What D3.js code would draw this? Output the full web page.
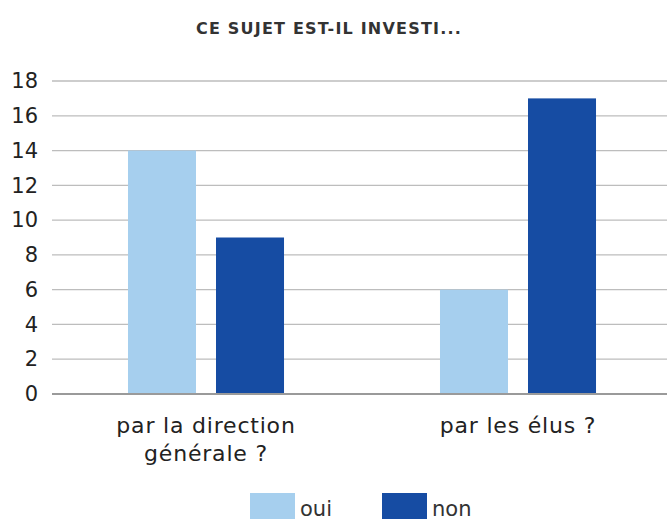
<!DOCTYPE html>
<html>
<head>
<meta charset="utf-8">
<script src="https://cdn.jsdelivr.net/npm/d3@7"></script>
<style>
    body { margin: 0; background: #fff; }
    svg { display: block; font-family: "DejaVu Sans", "Noto Sans", sans-serif; }
</style>
</head>
<body>
<div id="chart"></div>
<script>
// données du graphique
let categories = [['par la direction', 'générale ?'], ['par les élus ?']];
let seriesNames = ['oui', 'non'];
let ouiValues = [14, 6];
let nonValues = [9, 17];
let yTicks = [0, 2, 4, 6, 8, 10, 12, 14, 16, 18];
let colors = ['#a6cfee', '#164ca3'];

let width = 667, height = 521;
let svg = d3.select('#chart').append('svg')
    .attr('width', width)
    .attr('height', height);

//titre
svg.append('text')
    .attr('x', 329)
    .attr('y', 34)
    .attr('text-anchor', 'middle')
    .style('font-size', '16px')
    .style('letter-spacing', '1.2px')
    .style('font-weight', 'bold')
    .style('fill', '#333')
    .text('CE SUJET EST-IL INVESTI...');

let data = categories.map((c, i) => ({cat: i, values: [ouiValues[i], nonValues[i]]}));

let x0 = d3.scaleBand().domain(d3.range(categories.length)).range([50, 674]).padding(0);
let x1 = d3.scaleBand().domain(d3.range(seriesNames.length))
    .range([0, x0.bandwidth()])
    .paddingInner(20 / 88)
    .paddingOuter(0.886);
let y = d3.scaleLinear().domain([0, 18]).range([394, 81]);

//grille
svg.append('g').selectAll('line')
    .data(yTicks.filter(d => d > 0))
    .enter().append('line')
    .attr('x1', 52).attr('x2', width)
    .attr('y1', d => y(d)).attr('y2', d => y(d))
    .attr('stroke', '#bdbdbd')
    .attr('stroke-width', 1.3);

//axe Y
let yAxis = svg.append('g')
    .attr('transform', 'translate(38,0)')
    .call(d3.axisLeft(y).tickValues(yTicks).tickSize(0).tickPadding(0));
yAxis.select('.domain').remove();
yAxis.selectAll('text')
    .style('font-size', '21px')
    .style('fill', '#222')
    .style('font-family', '"DejaVu Sans", sans-serif');

//barres
let groups = svg.append('g').selectAll('g')
    .data(data)
    .enter().append('g')
    .attr('transform', d => 'translate(' + x0(d.cat) + ',0)');
groups.selectAll('rect')
    .data(d => d.values.map((v, k) => ({k: k, v: v})))
    .enter().append('rect')
    .attr('x', d => x1(d.k))
    .attr('width', x1.bandwidth())
    .attr('y', d => y(d.v))
    .attr('height', d => y(0) - y(d.v))
    .attr('fill', d => colors[d.k]);

//ligne de base
svg.append('line')
    .attr('x1', 52).attr('x2', width)
    .attr('y1', y(0)).attr('y2', y(0))
    .attr('stroke', '#9a9a9a')
    .attr('stroke-width', 2);

//libellés des catégories
let catLabels = svg.append('g').selectAll('text')
    .data(categories)
    .enter().append('text')
    .attr('x', (d, i) => x0(i) + x0.bandwidth() / 2)
    .attr('y', 433)
    .attr('text-anchor', 'middle')
    .style('font-size', '22px')
    .style('letter-spacing', '0.8px')
    .style('fill', '#222');
catLabels.selectAll('tspan')
    .data(d => d)
    .enter().append('tspan')
    .attr('x', function () { return d3.select(this.parentNode).attr('x'); })
    .attr('dy', (d, i) => i === 0 ? 0 : 28)
    .text(d => d);

//légende
let legend = svg.append('g').selectAll('g')
    .data(seriesNames)
    .enter().append('g')
    .attr('transform', (d, i) => 'translate(' + (250 + i * 132) + ',493)');
legend.append('rect')
    .attr('width', 45)
    .attr('height', 26)
    .attr('fill', (d, i) => colors[i]);
legend.append('text')
    .attr('x', 50)
    .attr('y', 23)
    .style('font-size', '21px')
    .style('fill', '#333')
    .text(d => d);
</script>
</body>
</html>
